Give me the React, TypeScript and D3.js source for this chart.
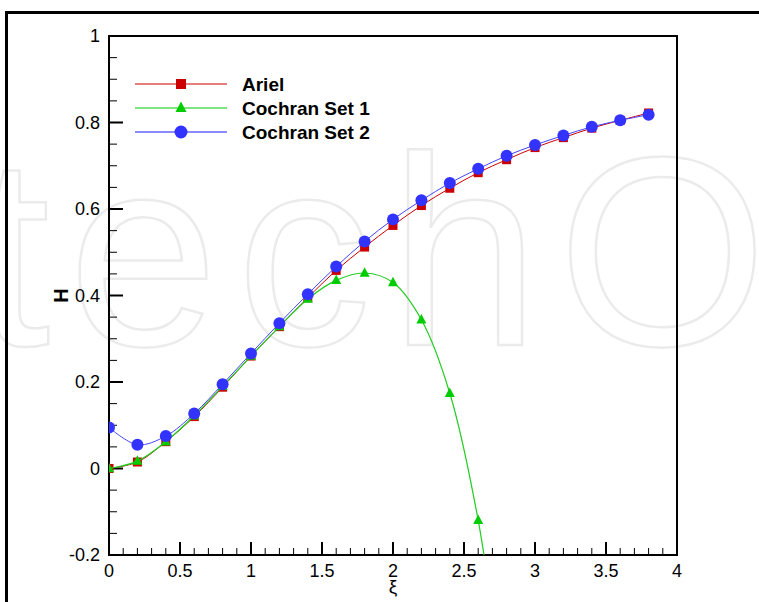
import React from "react";
import * as d3 from "d3";

const xiValues = [0, 0.2, 0.4, 0.6, 0.8, 1.0, 1.2, 1.4, 1.6, 1.8, 2.0, 2.2, 2.4, 2.6, 2.8, 3.0, 3.2, 3.4, 3.6, 3.8];
const ariel = [0, 0.015, 0.062, 0.12, 0.188, 0.26, 0.328, 0.395, 0.458, 0.512, 0.562, 0.608, 0.648, 0.684, 0.714, 0.742, 0.765, 0.787, 0.805, 0.822];
const cochranSet2 = [0.095, 0.055, 0.075, 0.127, 0.195, 0.266, 0.336, 0.403, 0.467, 0.525, 0.576, 0.62, 0.66, 0.693, 0.723, 0.748, 0.77, 0.79, 0.805, 0.818];
const set1Xi = [0, 0.2, 0.4, 0.6, 0.8, 1.0, 1.2, 1.4, 1.6, 1.8, 2.0, 2.2, 2.4, 2.6];
const cochranSet1 = [0, 0.017, 0.062, 0.122, 0.19, 0.26, 0.328, 0.392, 0.435, 0.452, 0.43, 0.344, 0.174, -0.12];
// continuation of the Set 1 curve below the axis (no marker)
const set1TailXi = [2.7];
const set1Tail = [-0.34];

const xMajor = [0, 0.5, 1, 1.5, 2, 2.5, 3, 3.5, 4];
const yMajor = [-0.2, 0, 0.2, 0.4, 0.6, 0.8, 1];
const legendNames = ["Ariel", "Cochran Set 1", "Cochran Set 2"];

const W = 759;
const H = 602;
const L = 109, R = 677, T = 36, B = 555;

export default function App() {
  const x = d3.scaleLinear().domain([0, 4]).range([L, R]);
  const y = d3.scaleLinear().domain([-0.2, 1]).range([B, T]);

  const xMinor = d3.range(0, 4.0001, 0.1).map((v) => +v.toFixed(2));
  const yMinor = d3.range(-0.2, 1.0001, 0.05).map((v) => +v.toFixed(3));

  const line = d3
    .line<[number, number]>()
    .x((d) => x(d[0]))
    .y((d) => y(d[1]))
    .curve(d3.curveCatmullRom.alpha(0.5));

  const arielPts: [number, number][] = xiValues.map((v, i) => [v, ariel[i]]);
  const set2Pts: [number, number][] = xiValues.map((v, i) => [v, cochranSet2[i]]);
  const set1Pts: [number, number][] = set1Xi.map((v, i) => [v, cochranSet1[i]]);
  const set1Line: [number, number][] = set1Pts.concat(set1TailXi.map((v, i) => [v, set1Tail[i]] as [number, number]));

  const red = "#cc0000";
  const green = "#00cc00";
  const blue = "#3333ff";

  const fmt = (v: number) => {
    const r = Math.round(v * 100) / 100;
    return String(r);
  };

  const square = (cx: number, cy: number, key: string, s = 9) => (
    <rect key={key} x={cx - s / 2} y={cy - s / 2} width={s} height={s} fill={red} />
  );
  const tri = (cx: number, cy: number, key: string, s = 10) => (
    <polygon
      key={key}
      points={`${cx},${cy - s * 0.58} ${cx - s / 2},${cy + s * 0.37} ${cx + s / 2},${cy + s * 0.37}`}
      fill={green}
    />
  );
  const circ = (cx: number, cy: number, key: string, r = 6) => (
    <circle key={key} cx={cx} cy={cy} r={r} fill={blue} />
  );

  const legendY = [84, 108, 132];

  return (
    <svg
      width={W}
      height={H}
      style={{ position: "absolute", left: 0, top: 0, background: "#fff" }}
      fontFamily="'Liberation Sans', Arial, Helvetica, sans-serif"
    >
      <defs>
        <clipPath id="plotClip">
          <rect x={L} y={T} width={R - L} height={B - T} />
        </clipPath>
      </defs>
      <rect x={0} y={0} width={W} height={H} fill="#fff" />
      {/* watermark */}
      <text
        x={-286}
        y={345}
        fontSize={270}
        letterSpacing={18}
        fill="none"
        stroke="#ebebeb"
        strokeWidth={2.5}
        fontFamily="'Liberation Sans', Arial, sans-serif"
      >
        IntechOpen
      </text>
      {/* outer frame */}
      <path d={`M6.5,${H + 5} V12.5 H${W + 5}`} fill="none" stroke="#000" strokeWidth={3} />

      {/* plot frame */}
      <rect x={L} y={T} width={R - L} height={B - T} fill="none" stroke="#000" strokeWidth={2} />

      {/* x ticks */}
      {xMinor.map((v) => (
        <line key={"xm" + v} x1={x(v)} x2={x(v)} y1={B} y2={B - 7} stroke="#000" strokeWidth={1} />
      ))}
      {xMajor.map((v) => (
        <line key={"xM" + v} x1={x(v)} x2={x(v)} y1={B} y2={B - 13} stroke="#000" strokeWidth={2} />
      ))}
      {xMajor.map((v) => (
        <text key={"xl" + v} x={x(v)} y={577} fontSize={18} textAnchor="middle" fill="#000">
          {fmt(v)}
        </text>
      ))}
      {/* y ticks */}
      {yMinor.map((v) => (
        <line key={"ym" + v} x1={L} x2={L + 8} y1={y(v)} y2={y(v)} stroke="#000" strokeWidth={1} />
      ))}
      {yMajor.map((v) => (
        <line key={"yM" + v} x1={L} x2={L + 14} y1={y(v)} y2={y(v)} stroke="#000" strokeWidth={2} />
      ))}
      {yMajor.map((v) => (
        <text key={"yl" + v} x={100} y={y(v) + 6} fontSize={18} textAnchor="end" fill="#000">
          {fmt(v)}
        </text>
      ))}

      {/* axis titles */}
      <text x={(L + R) / 2} y={593} fontSize={19} textAnchor="middle" fill="#000">
        ξ
      </text>
      <text
        transform={`translate(${61},${y(0.4)}) rotate(-90)`}
        fontSize={20}
        fontWeight="bold"
        textAnchor="middle"
        dominantBaseline="central"
        fill="#000"
      >
        H
      </text>

      {/* series */}
      <g clipPath="url(#plotClip)">
        <path d={line(arielPts) || ""} fill="none" stroke={red} strokeWidth={1} />
        {arielPts.map((d, i) => square(x(d[0]), y(d[1]), "a" + i))}
        <path d={line(set1Line) || ""} fill="none" stroke="#22cc22" strokeWidth={1.2} />
        {set1Pts.map((d, i) => tri(x(d[0]), y(d[1]), "g" + i))}
        <path d={line(set2Pts) || ""} fill="none" stroke="#4444ff" strokeWidth={1} />
        {set2Pts.map((d, i) => circ(x(d[0]), y(d[1]), "b" + i))}
      </g>

      {/* legend */}
      {legendNames.map((name, i) => {
        const ly = legendY[i];
        const colors = [red, "#55dd55", "#6666ff"];
        return (
          <g key={name}>
            <line x1={135} x2={227} y1={ly} y2={ly} stroke={colors[i]} strokeWidth={i === 0 ? 1 : 1.5} />
            {i === 0 && square(181, ly, "ls", 10)}
            {i === 1 && tri(181, ly, "lt", 11)}
            {i === 2 && circ(181, ly, "lc", 6.5)}
            <text x={242} y={ly + 7} fontSize={19} fontWeight="bold" fill="#000">
              {name}
            </text>
          </g>
        );
      })}
    </svg>
  );
}
